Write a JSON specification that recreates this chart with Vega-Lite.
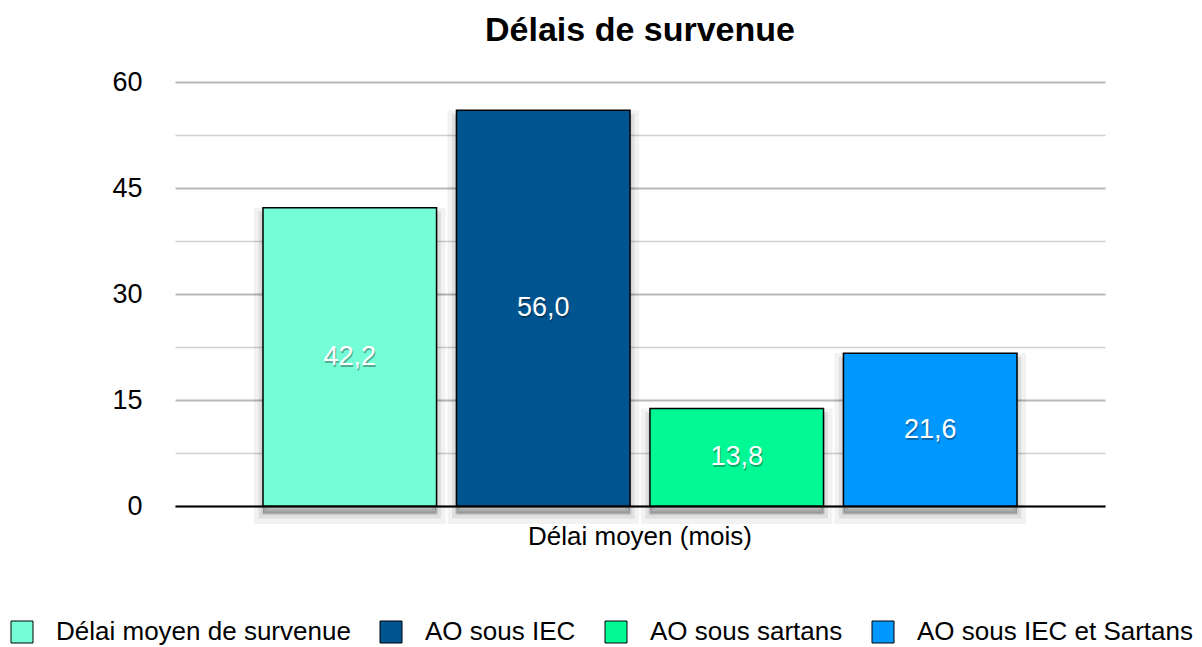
{
  "$schema": "https://vega.github.io/schema/vega-lite/v6.json",
  "width": 930,
  "height": 424,
  "autosize": {"type": "none"},
  "padding": {"left": 175, "top": 82, "right": 97, "bottom": 141},
  "background": "white",
  "config": {
    "view": {"stroke": null},
    "font": "Liberation Sans",
    "locale": {"number": {"decimal": ",", "thousands": " ", "grouping": [3], "currency": ["", " €"]}}
  },
  "title": {"text": "Délais de survenue", "fontSize": 34, "fontWeight": "bold", "font": "Liberation Sans", "color": "#000000", "anchor": "middle", "offset": 20},
  "data": {
    "values": [
      {"groupe": "Délai moyen (mois)", "serie": "Délai moyen de survenue", "valeur": 42.2},
      {"groupe": "Délai moyen (mois)", "serie": "AO sous IEC", "valeur": 56.0},
      {"groupe": "Délai moyen (mois)", "serie": "AO sous sartans", "valeur": 13.8},
      {"groupe": "Délai moyen (mois)", "serie": "AO sous IEC et Sartans", "valeur": 21.6}
    ]
  },
  "encoding": {
    "x": {
      "field": "groupe", "type": "nominal",
      "scale": {"paddingInner": 0, "paddingOuter": 0.1167},
      "axis": {"title": null, "labelAngle": 0, "labelFontSize": 26, "labelColor": "#000000", "labelPadding": 17, "labelLimit": 500, "ticks": false, "domainColor": "#000000", "domainWidth": 2, "labelFont": "Liberation Sans"}
    },
    "xOffset": {"field": "serie", "type": "nominal", "sort": null, "scale": {"paddingInner": 0.103, "paddingOuter": 0}},
    "y": {
      "field": "valeur", "type": "quantitative",
      "scale": {"domain": [0, 60], "nice": false},
      "axis": {
        "title": null,
        "values": [0, 7.5, 15, 22.5, 30, 37.5, 45, 52.5, 60],
        "labelExpr": "datum.value % 15 === 0 ? format(datum.value, 'd') : ''",
        "labelFontSize": 27, "labelColor": "#000000", "labelPadding": 33, "labelFont": "Liberation Sans",
        "ticks": false, "domain": false,
        "gridColor": {"condition": {"test": "datum.value % 15 === 0", "value": "#b8b8b8"}, "value": "#d0d0d0"},
        "gridWidth": {"condition": {"test": "datum.value % 15 === 0", "value": 2}, "value": 1.5}
      }
    }
  },
  "layer": [
    {"mark": {"type": "bar", "fill": "#000000", "fillOpacity": 0.05, "stroke": "#000000", "strokeOpacity": 0.05, "strokeWidth": 18, "yOffset": 9}},
    {"mark": {"type": "bar", "fill": "#000000", "fillOpacity": 0.08, "stroke": "#000000", "strokeOpacity": 0.08, "strokeWidth": 9, "yOffset": 8}},
    {"mark": {"type": "bar", "fill": "#000000", "fillOpacity": 0.12, "stroke": "#000000", "strokeOpacity": 0.10, "strokeWidth": 3, "yOffset": 7}},
    {
      "mark": {"type": "bar", "stroke": "#000000", "strokeWidth": 1.5},
      "encoding": {
        "color": {
          "field": "serie", "type": "nominal", "sort": null,
          "scale": {"domain": ["Délai moyen de survenue", "AO sous IEC", "AO sous sartans", "AO sous IEC et Sartans"], "range": ["#75fdd6", "#00548f", "#00f994", "#0097ff"]},
          "legend": {
            "title": null, "orient": "none", "legendX": -166, "legendY": 537, "direction": "horizontal",
            "symbolType": "square", "symbolSize": 484, "symbolStrokeColor": "#000000", "symbolStrokeWidth": 1,
            "labelFontSize": 26, "labelFont": "Liberation Sans", "labelColor": "#000000", "labelOffset": 21, "columnPadding": 27, "labelLimit": 500
          }
        }
      }
    },
    {
      "mark": {"type": "text", "color": "#000000", "opacity": 0.3, "fontSize": 27, "font": "Liberation Sans", "dx": 1, "baseline": "middle", "dy": {"expr": "(scale('y', 0) - scale('y', datum.valeur)) / 2 + 2"}},
      "encoding": {"text": {"field": "valeur", "type": "quantitative", "format": ".1f"}}
    },
    {
      "mark": {"type": "text", "color": "#ffffff", "fontSize": 27, "font": "Liberation Sans", "baseline": "middle", "dy": {"expr": "(scale('y', 0) - scale('y', datum.valeur)) / 2"}},
      "encoding": {"text": {"field": "valeur", "type": "quantitative", "format": ".1f"}}
    }
  ]
}
